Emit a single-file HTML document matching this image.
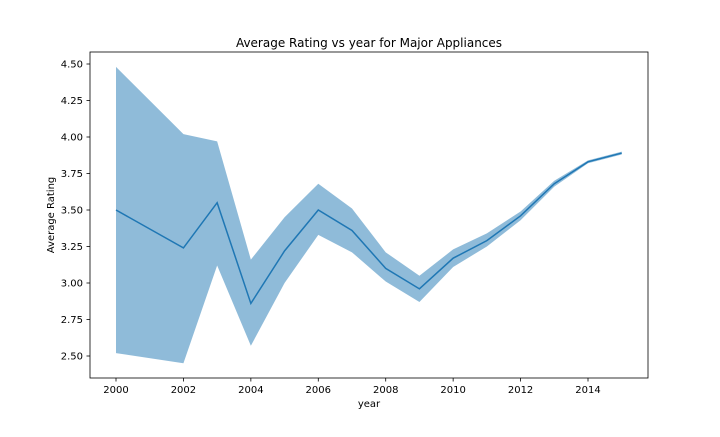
<!DOCTYPE html>
<html><head><meta charset="utf-8"><style>
body{margin:0;background:#fff;font-family:"Liberation Sans","DejaVu Sans",sans-serif;}
text{font-family:"DejaVu Sans","Liberation Sans",sans-serif;}
</style></head><body>
<svg id="chart" width="720" height="432" xmlns="http://www.w3.org/2000/svg">
<rect width="720" height="432" fill="#fff"/>
<text x="369" y="47" font-size="12" text-anchor="middle">Average Rating vs year for Major Appliances</text>
<g id="band-layer"></g><g id="line-layer"></g>
<rect x="90" y="52" width="558" height="326" fill="none" stroke="#000" stroke-width="0.8"/>
<g id="xticks"></g><g id="yticks"></g>
<text x="369" y="407" font-size="10" text-anchor="middle">year</text>
<text transform="translate(54,215) rotate(-90)" font-size="10" text-anchor="middle">Average Rating</text>
</svg>
<script>
const years=[2000,2002,2003,2004,2005,2006,2007,2008,2009,2010,2011,2012,2013,2014,2015];
const meanRating=[3.50,3.24,3.55,2.86,3.22,3.50,3.36,3.10,2.96,3.17,3.29,3.46,3.68,3.83,3.89];
const upperCI=[4.48,4.02,3.97,3.16,3.45,3.68,3.51,3.21,3.05,3.23,3.34,3.49,3.70,3.84,3.90];
const lowerCI=[2.52,2.45,3.12,2.57,3.00,3.33,3.21,3.01,2.87,3.11,3.25,3.43,3.66,3.82,3.88];
const xTicks=[2000,2002,2004,2006,2008,2010,2012,2014];
const yTicks=[2.50,2.75,3.00,3.25,3.50,3.75,4.00,4.25,4.50];
const NS="http://www.w3.org/2000/svg";
const xs=v=>116+(v-2000)*(588-116)/14;
const ys=v=>356-(v-2.5)*146;
function mk(t,a,p){const e=document.createElementNS(NS,t);for(const k in a)e.setAttribute(k,a[k]);p.appendChild(e);return e;}
let d=years.map((y,i)=>(i?'L':'M')+xs(y)+','+ys(upperCI[i])).join('');
for(let i=years.length-1;i>=0;i--)d+='L'+xs(years[i])+','+ys(lowerCI[i]);
const band=mk('path',{d:d+'Z',fill:'#1f77b4','fill-opacity':0.5},document.getElementById('band-layer'));


const line=mk('path',{d:years.map((y,i)=>(i?'L':'M')+xs(y)+','+ys(meanRating[i])).join(''),fill:'none',stroke:'#1f77b4','stroke-width':1.5},document.getElementById('line-layer'));


const xg=document.getElementById('xticks');
xTicks.forEach(v=>{const g=mk('g',{},xg);


mk('line',{x1:xs(v),x2:xs(v),y1:378,y2:381.5,stroke:'#000','stroke-width':0.8},g);
const t=mk('text',{x:xs(v),y:393,'font-size':10,'text-anchor':'middle'},g);t.textContent=v;});
const yg=document.getElementById('yticks');
yTicks.forEach(v=>{const g=mk('g',{},yg);


mk('line',{x1:86.5,x2:90,y1:ys(v),y2:ys(v),stroke:'#000','stroke-width':0.8},g);
const t=mk('text',{x:83,y:ys(v)+3.5,'font-size':10,'text-anchor':'end'},g);t.textContent=v.toFixed(2);});
</script>
</body></html>
